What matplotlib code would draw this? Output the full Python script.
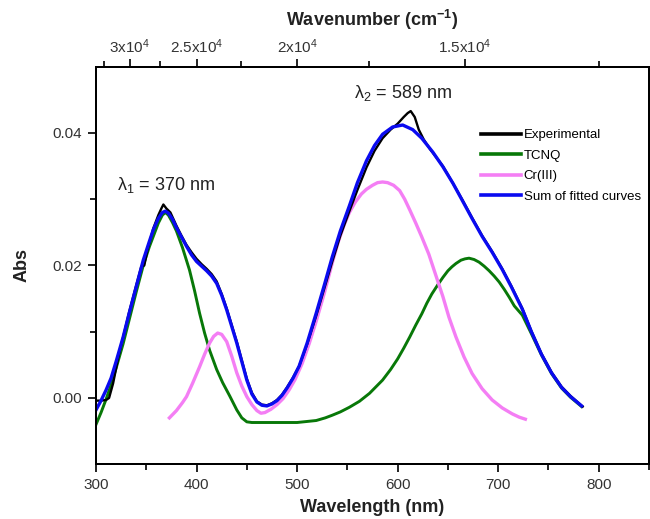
import matplotlib
matplotlib.use("Agg")
import matplotlib.pyplot as plt
from matplotlib.ticker import FixedLocator, MultipleLocator, FormatStrFormatter

plt.rcParams["font.family"] = ["Liberation Sans", "DejaVu Sans"]
plt.rcParams["mathtext.fontset"] = "custom"
plt.rcParams["mathtext.rm"] = "Liberation Sans"
plt.rcParams["mathtext.it"] = "Liberation Sans:italic"
plt.rcParams["mathtext.bf"] = "Liberation Sans:bold"

# Experimental absorption spectrum
exp_wl = [300, 305, 310, 313, 317, 322, 327, 333, 340, 345, 348, 351, 357, 362,
          365, 367, 370, 374, 380, 385, 390, 395, 400, 405, 410, 415, 420, 425,
          430, 435, 440, 445, 450, 455, 460, 465, 470, 475, 480, 485, 490, 496,
          502, 510, 519, 527, 535, 543, 552, 560, 569, 577, 585, 593, 600, 606,
          610, 613, 617, 621, 626, 632, 640, 645, 655, 664, 674, 684, 694, 704,
          713, 724, 733, 743, 753, 763, 772, 784]
exp_abs = [-0.0004, -0.0004, -0.0003, 0.0000, 0.0022, 0.0060, 0.0092, 0.0130,
           0.0170, 0.0198, 0.0200, 0.0222, 0.0256, 0.0276, 0.0286, 0.0292,
           0.0286, 0.0280, 0.0260, 0.0245, 0.0231, 0.0220, 0.0210, 0.0202,
           0.0195, 0.0187, 0.0176, 0.0157, 0.0135, 0.0110, 0.0085, 0.0057,
           0.0029, 0.0008, -0.0005, -0.0010, -0.0011, -0.0008, -0.0003, 0.0005,
           0.0016, 0.0031, 0.0048, 0.0081, 0.0124, 0.0165, 0.0206, 0.0245,
           0.0282, 0.0314, 0.0348, 0.0373, 0.0392, 0.0405, 0.0414, 0.0424,
           0.0430, 0.0433, 0.0424, 0.0405, 0.0390, 0.0376, 0.0360, 0.0350,
           0.0324, 0.0300, 0.0272, 0.0245, 0.0221, 0.0195, 0.0169, 0.0135,
           0.0101, 0.0067, 0.0039, 0.0017, 0.0003, -0.0013]

# Fitted TCNQ band
tcnq_wl = [300, 305, 310, 315, 320, 327, 333, 340, 347, 353, 358, 362, 366, 369,
           372, 376, 380, 386, 393, 398, 403, 408, 413, 420, 426, 433, 440, 445,
           450, 455, 480, 500, 519, 528, 535, 543, 552, 562, 572, 585, 593, 600,
           606, 612, 618, 624, 629, 634, 640, 645, 650, 654, 658, 663, 667, 671,
           676, 681, 686, 691, 696, 701, 706, 711, 716, 724, 733, 743, 753, 763,
           772, 783]
tcnq_abs = [-0.0040, -0.0022, -0.0002, 0.0020, 0.0045, 0.0082, 0.0118, 0.0160,
            0.0200, 0.0228, 0.0248, 0.0264, 0.0276, 0.0280, 0.0276, 0.0265,
            0.0252, 0.0227, 0.0193, 0.0162, 0.0128, 0.0098, 0.0072, 0.0043,
            0.0023, 0.0003, -0.0018, -0.0030, -0.0036, -0.0037, -0.0037,
            -0.0037, -0.0034, -0.0030, -0.0026, -0.0021, -0.0014, -0.0005,
            0.0007, 0.0027, 0.0043, 0.0059, 0.0075, 0.0092, 0.0110, 0.0127,
            0.0143, 0.0157, 0.0171, 0.0182, 0.0192, 0.0198, 0.0203, 0.0208,
            0.0210, 0.0211, 0.0209, 0.0205, 0.0199, 0.0192, 0.0184, 0.0175,
            0.0164, 0.0152, 0.0139, 0.0125, 0.0097, 0.0065, 0.0037, 0.0015,
            0.0001, -0.0013]

# Fitted Cr(III) bands
cr_wl = [373, 380, 386, 390, 396, 403, 408, 413, 417, 421, 425, 430, 435, 440,
         445, 450, 455, 460, 464, 468, 474, 480, 486, 492, 498, 505, 512, 519,
         527, 535, 541, 547, 552, 558, 564, 569, 575, 580, 585, 590, 596, 602,
         607, 612, 618, 624, 631, 638, 645, 651, 658, 666, 674, 684, 694, 704,
         714, 721, 727]
cr_abs = [-0.0030, -0.0019, -0.0007, 0.0002, 0.0022, 0.0047, 0.0066, 0.0083,
          0.0093, 0.0098, 0.0096, 0.0085, 0.0063, 0.0038, 0.0018, 0.0002,
          -0.0010, -0.0019, -0.0023, -0.0022, -0.0017, -0.0010, -0.0001,
          0.0012, 0.0028, 0.0052, 0.0082, 0.0116, 0.0158, 0.0204, 0.0236,
          0.0262, 0.0280, 0.0296, 0.0308, 0.0315, 0.0321, 0.0325, 0.0326,
          0.0325, 0.0321, 0.0313, 0.0300, 0.0284, 0.0264, 0.0243, 0.0217,
          0.0185, 0.0153, 0.0122, 0.0092, 0.0062, 0.0037, 0.0014, -0.0003,
          -0.0015, -0.0024, -0.0029, -0.0032]

# Sum of fitted curves
sum_wl = [300, 305, 310, 315, 320, 327, 333, 340, 347, 353, 357, 362, 366, 369,
          372, 376, 380, 385, 390, 395, 400, 405, 410, 415, 420, 425, 430, 435,
          440, 445, 450, 455, 460, 465, 470, 475, 480, 485, 490, 496, 502, 510,
          519, 527, 535, 543, 552, 560, 569, 577, 585, 595, 605, 615, 624, 635,
          645, 655, 664, 674, 684, 694, 704, 713, 724, 733, 743, 753, 763, 772,
          783]
sum_abs = [-0.0018, -0.0004, 0.0012, 0.0030, 0.0055, 0.0092, 0.0128, 0.0168,
           0.0208, 0.0236, 0.0254, 0.0271, 0.0280, 0.0282, 0.0279, 0.0270,
           0.0257, 0.0243, 0.0229, 0.0216, 0.0206, 0.0199, 0.0192, 0.0184,
           0.0173, 0.0155, 0.0133, 0.0108, 0.0083, 0.0055, 0.0027, 0.0006,
           -0.0006, -0.0011, -0.0012, -0.0009, -0.0004, 0.0004, 0.0015, 0.0030,
           0.0048, 0.0083, 0.0128, 0.0170, 0.0213, 0.0252, 0.0290, 0.0325,
           0.0358, 0.0381, 0.0398, 0.0409, 0.0412, 0.0405, 0.0392, 0.0371,
           0.0349, 0.0324, 0.0299, 0.0271, 0.0244, 0.0220, 0.0194, 0.0168,
           0.0134, 0.0100, 0.0066, 0.0038, 0.0016, 0.0002, -0.0012]

wavenumber_major = [3e4, 2.5e4, 2e4, 1.5e4]
wavenumber_labels = ["3x10$^{4}$", "2.5x10$^{4}$", "2x10$^{4}$", "1.5x10$^{4}$"]
wavenumber_minor = [3.25e4, 2.75e4, 2.25e4, 1.75e4, 1.25e4]

TXT = "#222222"

fig = plt.figure(figsize=(6.5, 5.19), dpi=100)
ax = fig.add_axes([0.1477, 0.1055, 0.8508, 0.766])

ax.plot(tcnq_wl, tcnq_abs, color="#087808", lw=2.1, label="TCNQ", zorder=2)
ax.plot(cr_wl, cr_abs, color="#f47ef4", lw=2.4, label="Cr(III)", zorder=3)
ax.plot(exp_wl, exp_abs, color="black", lw=1.7, label="Experimental", zorder=4)
ax.plot(sum_wl, sum_abs, color="#0a0af0", lw=2.4, label="Sum of fitted curves", zorder=5)

ax.set_xlim(300, 850)
ax.set_ylim(-0.01, 0.05)
ax.xaxis.set_major_locator(MultipleLocator(100))
ax.xaxis.set_minor_locator(MultipleLocator(50))
ax.yaxis.set_major_locator(FixedLocator([0.0, 0.02, 0.04]))
ax.yaxis.set_minor_locator(FixedLocator([0.01, 0.03]))
ax.yaxis.set_major_formatter(FormatStrFormatter("%.2f"))
ax.tick_params(which="both", direction="out", width=1.4, labelsize=11,
               colors=TXT, labelcolor="#333333")
ax.tick_params(which="major", length=6)
ax.tick_params(which="minor", length=4)
ax.tick_params(axis="x", pad=4)
ax.tick_params(axis="y", pad=4)
for sp in ax.spines.values():
    sp.set_linewidth(1.4)

# Top axis in wavenumbers (cm^-1 = 1e7 / nm)
top = ax.twiny()
top.set_xlim(ax.get_xlim())
top.xaxis.set_major_locator(FixedLocator([1e7 / k for k in wavenumber_major]))
top.xaxis.set_minor_locator(FixedLocator([1e7 / k for k in wavenumber_minor]))
top.set_xticklabels(wavenumber_labels)
top.tick_params(which="both", direction="out", width=1.4, labelsize=11,
                colors=TXT, labelcolor="#333333", pad=2)
top.tick_params(which="major", length=6)
top.tick_params(which="minor", length=4)
for sp in top.spines.values():
    sp.set_linewidth(1.4)

ax_mid = 0.1477 + 0.8508 / 2
fig.text(ax_mid, 1 - 20 / 519, "Wavenumber (cm$^{\\mathbf{-1}}$)", ha="center",
         va="center", fontsize=13, fontweight="bold", color=TXT)
fig.text(ax_mid, 1 - 507 / 519, "Wavelength (nm)", ha="center", va="center",
         fontsize=13, fontweight="bold", color=TXT)
fig.text(22 / 650, 1 - 265 / 519, "Abs", ha="center", va="center", rotation=90,
         fontsize=13, fontweight="bold", color=TXT)

ax.text(321, 0.0321, "λ$_{1}$ = 370 nm", fontsize=13, color=TXT,
        ha="left", va="center")
ax.text(557, 0.0460, "λ$_{2}$ = 589 nm", fontsize=13, color=TXT,
        ha="left", va="center")

handles, labels = ax.get_legend_handles_labels()
order = [2, 0, 1, 3]
leg = ax.legend([handles[i] for i in order], [labels[i] for i in order],
                loc="upper left", bbox_to_anchor=(0.697, 0.843), frameon=False,
                fontsize=9.5, handlelength=3.0, handletextpad=0.2,
                labelspacing=0.63, borderaxespad=0, borderpad=0)
for line in leg.get_lines():
    line.set_linewidth(2.6)

fig.savefig("out.png", dpi=100)
